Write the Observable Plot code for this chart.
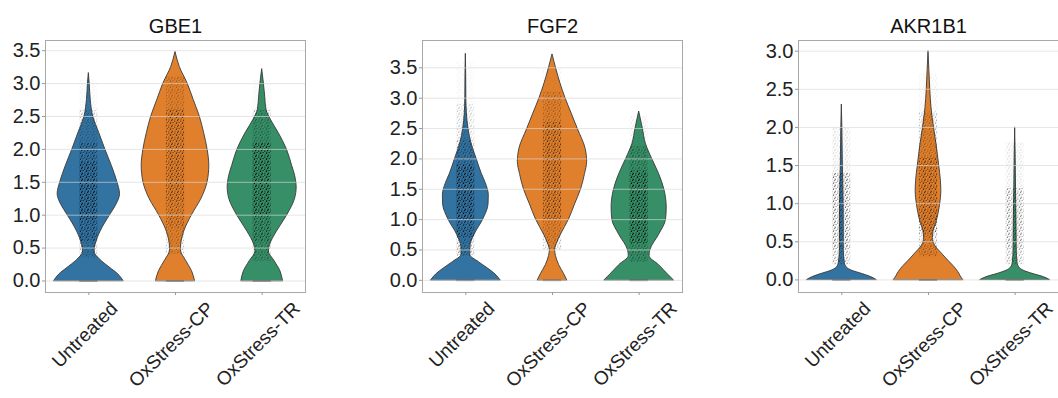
<!DOCTYPE html>
<html><head><meta charset="utf-8">
<script src="https://cdn.jsdelivr.net/npm/d3@7"></script>
<script src="https://cdn.jsdelivr.net/npm/@observablehq/plot@0.6"></script>
<style>
body{margin:0;background:#fff}
#chart{position:relative;width:1058px;height:398px;overflow:hidden;background:#fff}
#chart svg{position:absolute;top:0;overflow:visible}
</style>
</head><body><div id="chart"></div>
<script>
// ---------- data ----------
const genes = ["GBE1", "FGF2", "AKR1B1"];
const groups = ["Untreated", "OxStress-CP", "OxStress-TR"];
const groupColors = ["#3273a1", "#e1802c", "#368f67"];
const yTicks = [
  [0, 0.5, 1, 1.5, 2, 2.5, 3, 3.5],
  [0, 0.5, 1, 1.5, 2, 2.5, 3, 3.5],
  [0, 0.5, 1, 1.5, 2, 2.5, 3]
];
const yDomains = [[-0.175, 3.655], [-0.2, 3.95], [-0.165, 3.14]];

// violin half-widths: [expression value, half width in category units]
const gbe1Untreated = [[0,0.40],[0.1,0.34],[0.2,0.245],[0.3,0.15],[0.45,0.066],[0.55,0.078],[0.75,0.135],[1.0,0.245],[1.15,0.315],[1.32,0.36],[1.5,0.33],[1.75,0.265],[2.0,0.19],[2.25,0.12],[2.5,0.05],[2.75,0.022],[3.0,0.01],[3.16,0]];
const gbe1CP = [[0,0.225],[0.15,0.19],[0.3,0.125],[0.47,0.062],[0.6,0.07],[0.75,0.10],[1.0,0.19],[1.25,0.30],[1.5,0.37],[1.75,0.39],[2.0,0.37],[2.25,0.33],[2.5,0.28],[2.75,0.21],[3.0,0.14],[3.25,0.05],[3.48,0]];
const gbe1TR = [[0,0.24],[0.15,0.21],[0.3,0.144],[0.45,0.077],[0.55,0.092],[0.75,0.17],[1.0,0.29],[1.25,0.38],[1.42,0.398],[1.6,0.38],[1.75,0.346],[2.0,0.285],[2.25,0.19],[2.45,0.1],[2.6,0.05],[2.8,0.035],[3.0,0.02],[3.22,0]];
const fgf2Untreated = [[0,0.40],[0.1,0.34],[0.2,0.25],[0.3,0.15],[0.42,0.05],[0.55,0.052],[0.75,0.10],[1.0,0.20],[1.25,0.262],[1.4,0.265],[1.6,0.23],[1.75,0.185],[2.0,0.125],[2.25,0.065],[2.5,0.03],[2.75,0.012],[3.0,0.006],[3.4,0.004],[3.73,0]];
const fgf2CP = [[0,0.17],[0.1,0.135],[0.25,0.077],[0.4,0.04],[0.5,0.03],[0.6,0.05],[0.75,0.096],[1.0,0.19],[1.25,0.26],[1.5,0.33],[1.75,0.375],[1.95,0.40],[2.15,0.385],[2.5,0.29],[2.75,0.22],[3.0,0.15],[3.25,0.09],[3.5,0.04],[3.72,0]];
const fgf2TR = [[0,0.40],[0.1,0.33],[0.25,0.23],[0.4,0.12],[0.5,0.13],[0.75,0.23],[1.0,0.31],[1.2,0.318],[1.5,0.29],[1.75,0.23],[2.0,0.15],[2.25,0.077],[2.5,0.042],[2.78,0]];
const akr1b1Untreated = [[0,0.40],[0.04,0.33],[0.08,0.23],[0.12,0.12],[0.16,0.06],[0.22,0.035],[0.4,0.022],[0.8,0.022],[1.2,0.018],[1.5,0.012],[2.0,0.006],[2.3,0]];
const akr1b1CP = [[0,0.40],[0.05,0.37],[0.1,0.345],[0.18,0.29],[0.25,0.23],[0.35,0.15],[0.45,0.075],[0.55,0.05],[0.65,0.06],[0.75,0.09],[1.0,0.135],[1.15,0.148],[1.3,0.143],[1.5,0.123],[1.75,0.096],[2.0,0.063],[2.25,0.035],[2.5,0.02],[2.75,0.01],[3.0,0]];
const akr1b1TR = [[0,0.40],[0.04,0.32],[0.08,0.2],[0.12,0.1],[0.16,0.05],[0.22,0.028],[0.4,0.018],[0.8,0.015],[1.2,0.01],[1.6,0.006],[2.0,0]];

// jittered-cell strips: [from value, to value, dot density]
const gbe1UntreatedDots = [[0.35,0.6,0.4],[0.6,0.9,0.75],[0.9,1.8,1.0],[1.8,2.1,0.7],[2.1,2.6,0.3],[2.6,3.05,0.06]];
const gbe1CPDots = [[0.4,0.8,0.3],[0.8,1.2,0.55],[1.2,2.6,0.7],[2.6,3.1,0.3]];
const gbe1TRDots = [[0.3,0.6,0.4],[0.6,1.0,0.7],[1.0,2.1,1.0],[2.1,2.6,0.4],[2.6,3.05,0.06]];
const fgf2UntreatedDots = [[0.4,0.7,0.45],[0.7,1.0,0.8],[1.0,1.9,1.0],[1.9,2.3,0.5],[2.3,2.9,0.22],[2.9,3.6,0.05]];
const fgf2CPDots = [[0.5,1.0,0.35],[1.0,2.6,0.7],[2.6,3.1,0.35],[3.1,3.5,0.08]];
const fgf2TRDots = [[0.3,0.6,0.45],[0.6,1.8,1.0],[1.8,2.2,0.45],[2.2,2.7,0.1]];
const akr1b1UntreatedDots = [[0.2,0.4,0.4],[0.4,1.4,0.6],[1.4,2.0,0.16]];
const akr1b1CPDots = [[0.3,0.6,0.4],[0.6,1.6,0.7],[1.6,2.2,0.35],[2.2,2.7,0.08]];
const akr1b1TRDots = [[0.2,0.4,0.35],[0.4,1.2,0.5],[1.2,1.8,0.13]];

const profiles = [[gbe1Untreated, gbe1CP, gbe1TR], [fgf2Untreated, fgf2CP, fgf2TR], [akr1b1Untreated, akr1b1CP, akr1b1TR]];
const dotStrips = [[gbe1UntreatedDots, gbe1CPDots, gbe1TRDots], [fgf2UntreatedDots, fgf2CPDots, fgf2TRDots], [akr1b1UntreatedDots, akr1b1CPDots, akr1b1TRDots]];

// ---------- layout ----------
const panelLeft = [0, 376.7, 752.7];
const FONT = '"Liberation Sans", Arial, Helvetica, sans-serif';
const tickFont = 20, xFont = 19, titleFont = 20;
const jitter = 0.105;

const ctx = document.createElement("canvas").getContext("2d");
ctx.font = `${xFont}px "Liberation Sans"`;

const chart = document.getElementById("chart");

genes.forEach((gene, p) => {
  const dom = yDomains[p];
  const marks = [];
  groups.forEach((g, i) => {
    marks.push(Plot.areaX(profiles[p][i], {
      y: d => d[0], x1: d => i - d[1], x2: d => i + d[1],
      fill: groupColors[i], stroke: "#3a3a3a", strokeWidth: 0.9, curve: "monotone-y"
    }));
    marks.push(Plot.rect(dotStrips[p][i], {
      x1: () => i - jitter, x2: () => i + jitter, y1: d => d[0], y2: d => d[1],
      fill: `url(#dots${p})`, fillOpacity: d => d[2]
    }));
    marks.push(Plot.ruleY([0], {x1: () => i - jitter, x2: () => i + jitter, stroke: "#1a1a1a", strokeOpacity: 0.55, strokeWidth: 1.6}));
  });
  marks.push(Plot.gridY(yTicks[p], {stroke: "#d8d8d8", strokeOpacity: 0.65, strokeWidth: 1}));
  marks.push(Plot.frame({stroke: "#a8a8a8", strokeWidth: 1}));
  marks.push(Plot.axisY(yTicks[p], {tickSize: 3, stroke: "#999", tickFormat: () => ""}));
  marks.push(Plot.axisY(yTicks[p], {tickSize: 0, tickPadding: 5, fontSize: tickFont, fill: "#222", tickFormat: d3.format(".1f")}));
  marks.push(Plot.axisX([0, 1, 2], {tickSize: 3, stroke: "#999", tickFormat: () => ""}));
  groups.forEach((g, i) => {
    const w = ctx.measureText(g).width;
    const dy = 8 + (w + xFont * 0.75) * 0.7071 / 2;
    marks.push(Plot.text([g], {
      x: () => i, y: () => dom[0], text: d => d, rotate: -45,
      textAnchor: "middle", lineAnchor: "middle", dx: -4, dy, fontSize: xFont, fill: "#222"
    }));
  });
  marks.push(Plot.text([gene], {frameAnchor: "top", text: d => d, dy: -14, lineAnchor: "middle", fontSize: titleFont, fill: "#111"}));

  const svg = Plot.plot({
    width: 306, height: 398,
    marginLeft: 45, marginRight: 1, marginTop: 40, marginBottom: 106,
    x: {type: "linear", domain: [-0.5, 2.5], axis: null},
    y: {domain: dom, axis: null},
    style: {fontFamily: FONT, background: "transparent", overflow: "visible"},
    marks
  });
  const ns = "http://www.w3.org/2000/svg";
  const defs = document.createElementNS(ns, "defs");
  defs.innerHTML = `<pattern id="dots${p}" width="6" height="6" patternUnits="userSpaceOnUse">
    <circle cx="0.8" cy="1.1" r="0.7" fill="#000"/>
    <circle cx="3.7" cy="0.4" r="0.6" fill="#000"/>
    <circle cx="2.4" cy="3.3" r="0.7" fill="#000"/>
    <circle cx="5.1" cy="2.6" r="0.6" fill="#000"/>
    <circle cx="4.2" cy="5.2" r="0.7" fill="#000"/>
    <circle cx="1.0" cy="5.0" r="0.6" fill="#000"/>
    <circle cx="3.0" cy="1.9" r="0.5" fill="#000"/>
  </pattern>`;
  svg.insertBefore(defs, svg.firstChild);
  svg.style.left = panelLeft[p] + "px";
  chart.appendChild(svg);
});
</script>
</body></html>
